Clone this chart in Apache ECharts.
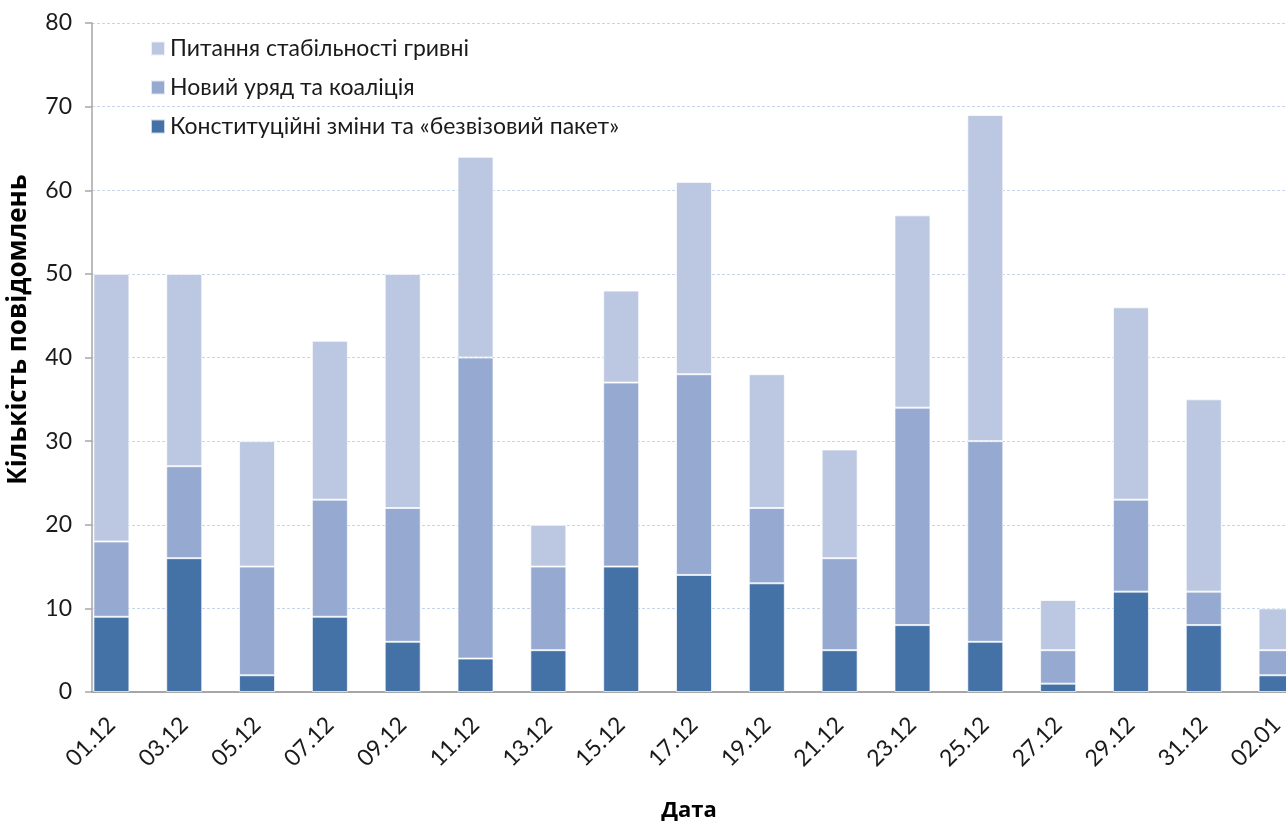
<!DOCTYPE html>
<html>
<head>
    <meta charset="UTF-8">
    <title>Кількість повідомлень</title>
    <script src="https://cdn.jsdelivr.net/npm/echarts@6/dist/echarts.min.js"></script>
</head>
<body style="margin: 0;overflow: hidden;background: #fff;">
<div id="chart" style="width: 1286px;height: 821px;"></div>
<script type="text/javascript">
    var dates = ['01.12', '03.12', '05.12', '07.12', '09.12', '11.12', '13.12', '15.12', '17.12',
        '19.12', '21.12', '23.12', '25.12', '27.12', '29.12', '31.12', '02.01'];
    var konstytutsiia = [9, 16, 2, 9, 6, 4, 5, 15, 14, 13, 5, 8, 6, 1, 12, 8, 2];
    var uriad = [9, 11, 13, 14, 16, 36, 10, 22, 24, 9, 11, 26, 24, 4, 11, 4, 3];
    var hryvnia = [32, 23, 15, 19, 28, 24, 5, 11, 23, 16, 13, 23, 39, 6, 23, 23, 5];
    var names = ['Питання стабільності гривні', 'Новий уряд та коаліція', 'Конституційні зміни та «безвізовий пакет»'];

    var font = 'Lato, "Open Sans", sans-serif';
    var titleFont = '"Open Sans", "Noto Sans", sans-serif';

    function bar(name, data, color) {
        return {
            name: name,
            type: 'bar',
            stack: 'total',
            barWidth: 36,
            xAxisIndex: 0,
            yAxisIndex: 0,
            itemStyle: {color: color, borderColor: 'rgba(255,255,255,0.7)', borderWidth: 1},
            data: data
        };
    }

    var chart = echarts.init(document.getElementById('chart'));
    chart.setOption({
        animation: false,
        textStyle: {fontFamily: font},
        // grid 0 holds the bars (first band starts a little left of the axis, last one is cut off),
        // grid 1 holds the visible value axis, grid lines and baseline
        grid: [
            {left: 75, right: -27, top: 23, bottom: 129, outerBoundsMode: 'none', containLabel: false},
            {left: 92, right: 0, top: 23, bottom: 129, outerBoundsMode: 'none', containLabel: false}
        ],
        legend: {
            orient: 'vertical',
            left: 145,
            top: 32,
            itemGap: 16,
            itemWidth: 14,
            itemHeight: 14,
            icon: 'rect',
            textStyle: {fontSize: 23, color: '#1a1a1a', fontFamily: font},
            data: names
        },
        xAxis: [{
            type: 'category',
            gridIndex: 0,
            data: dates,
            axisLine: {show: false},
            axisTick: {show: false},
            axisLabel: {rotate: 45, margin: 29, fontSize: 23, color: '#1a1a1a', fontFamily: font}
        }, {
            type: 'value',
            gridIndex: 1,
            min: 0,
            max: 1,
            name: 'Дата',
            nameLocation: 'middle',
            nameGap: 108,
            nameTextStyle: {fontSize: 22, fontWeight: 'bold', color: '#000', fontFamily: titleFont},
            splitLine: {show: false},
            axisLine: {show: true, lineStyle: {color: '#a6a6a6', width: 2}},
            axisTick: {show: false},
            axisLabel: {show: false}
        }],
        yAxis: [{
            type: 'value',
            gridIndex: 0,
            min: 0,
            max: 80,
            show: false
        }, {
            type: 'value',
            gridIndex: 1,
            min: 0,
            max: 80,
            interval: 10,
            name: 'Кількість повідомлень',
            nameLocation: 'middle',
            nameGap: 60,
            nameTextStyle: {fontSize: 26, fontWeight: 'bold', color: '#000', fontFamily: titleFont, padding: [0, 0, 0, 56]},
            axisLine: {show: true, onZero: false, lineStyle: {color: '#a6a6a6', width: 1.5}},
            axisTick: {show: true, length: 7, lineStyle: {color: '#a6a6a6', width: 1.5}},
            axisLabel: {fontSize: 23, color: '#1a1a1a', margin: 20, fontFamily: font},
            splitLine: {lineStyle: {color: '#c5d5ec', type: [3, 2], width: 1}}
        }],
        series: [
            bar(names[2], konstytutsiia, '#4472a6'),
            bar(names[1], uriad, '#95a9d1'),
            bar(names[0], hryvnia, '#bcc8e1')
        ]
    });
</script>
</body>
</html>
